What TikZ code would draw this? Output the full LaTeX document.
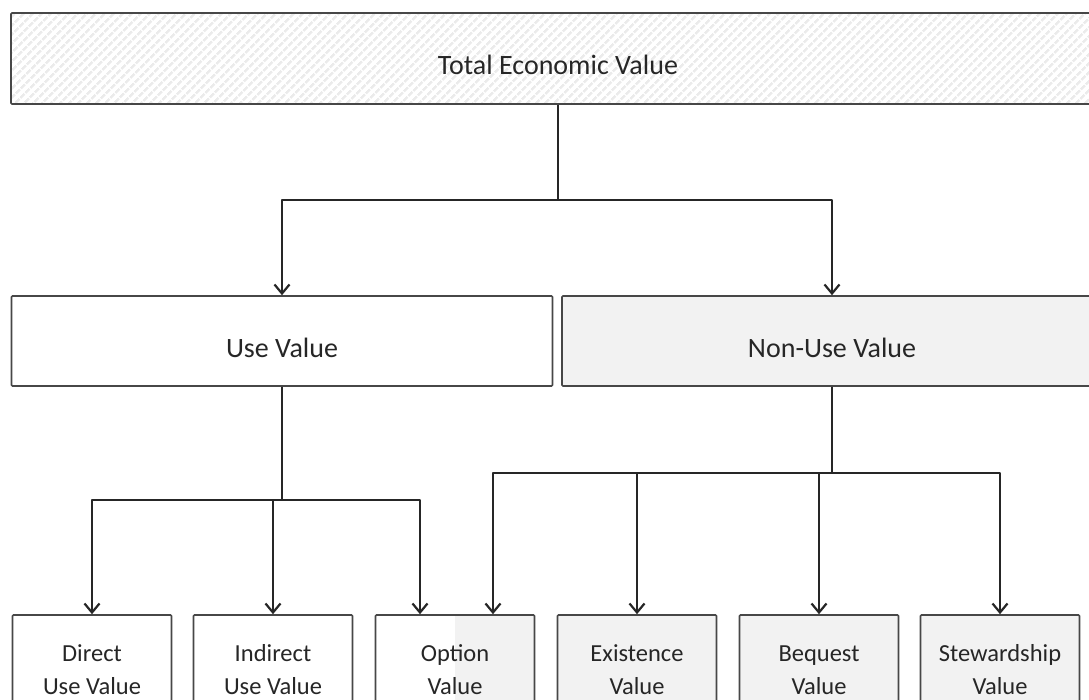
\documentclass[tikz,border=0pt]{standalone}
\usepackage{fontspec}
\setmainfont{Carlito}
\usetikzlibrary{arrows.meta,patterns.meta}
\definecolor{boxgray}{rgb}{0.95,0.95,0.95}
\definecolor{linegray}{rgb}{0.28,0.28,0.28}

\begin{document}
\begin{tikzpicture}[x=1pt, y=-1pt,
	box/.style={draw=linegray, line width=1.6pt, rounded corners=1pt, inner sep=0pt, align=center, text=black!85},
	bigbox/.style={box, minimum height=90pt, text height=32pt, text depth=0pt, font=\fontsize{28}{34}\selectfont},
	smallbox/.style={box, minimum width=159pt, minimum height=110pt, font=\fontsize{24.5}{33}\selectfont},
	conn/.style={draw=black!85, line width=1.7pt, line join=round, -{Straight Barb[length=9pt,width=15pt,line width=2.2pt]}}]

	\useasboundingbox (0,0) rectangle (1089,699);
	\clip (0,0) rectangle (1089,699);

	% top level
	\node[bigbox, minimum width=1094pt, minimum height=91pt, pattern={Lines[angle=45,distance=6.4pt,line width=2.6pt]}, pattern color=black!8] (tev) at (558,58.5) {Total Economic Value};

	% second level
	\node[bigbox, minimum width=541pt] (use) at (282,341) {Use Value};
	\node[bigbox, minimum width=540pt, fill=boxgray] (nonuse) at (832,341) {Non-Use Value};

	% third level
	\node[smallbox] (direct) at (92,670) {Direct\\Use Value};
	\node[smallbox] (indirect) at (273,670) {Indirect\\Use Value};
	\node[smallbox, path picture={\fill[boxgray] (path picture bounding box.north) rectangle (path picture bounding box.south east);}] (option) at (455,670) {Option\\Value};
	\node[smallbox, fill=boxgray] (exist) at (637,670) {Existence\\Value};
	\node[smallbox, fill=boxgray] (bequest) at (819,670) {Bequest\\Value};
	\node[smallbox, fill=boxgray] (steward) at (1000,670) {Stewardship\\Value};

	\coordinate (busA) at (558,200);
	\coordinate (busB) at (282,500);
	\coordinate (busC) at (832,473);

	\draw[conn] (tev.south) -- (busA) -| (use.north);
	\draw[conn] (tev.south) -- (busA) -| (nonuse.north);

	\draw[conn] (use.south) -- (busB) -| (direct.north);
	\draw[conn] (use.south) -- (busB) -| (indirect.north);
	\draw[conn] (use.south) -- (busB) -| ([xshift=-35pt]option.north);

	\draw[conn] (nonuse.south) -- (busC) -| ([xshift=38pt]option.north);
	\draw[conn] (nonuse.south) -- (busC) -| (exist.north);
	\draw[conn] (nonuse.south) -- (busC) -| (bequest.north);
	\draw[conn] (nonuse.south) -- (busC) -| (steward.north);

\end{tikzpicture}
\end{document}
